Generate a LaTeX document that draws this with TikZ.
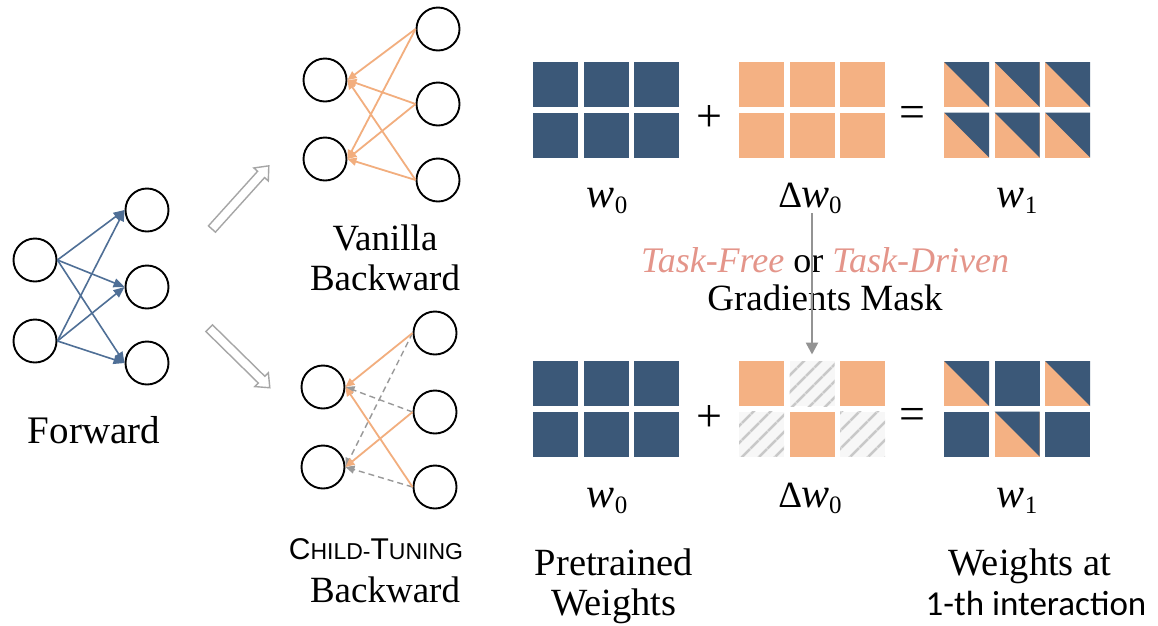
\documentclass[tikz,border=0pt]{standalone}
\usepackage{fontspec}
\setmainfont{Liberation Serif}
\newfontfamily\calib{Carlito}
\newfontfamily\sanscaps{Liberation Sans}
\usetikzlibrary{arrows.meta,shapes.arrows,patterns.meta}

\definecolor{wblue}{HTML}{3B5878}
\definecolor{peach}{HTML}{F4B183}
\definecolor{fwdblue}{HTML}{4F6F96}
\definecolor{bwdorange}{HTML}{F2AE7E}
\definecolor{taskred}{HTML}{E4958A}
\definecolor{hatchgray}{HTML}{C8C8C8}

\newcommand\wlabel[2]{{\fontsize{42}{42}\selectfont\itshape w}\raisebox{-6pt}{\fontsize{25}{25}\selectfont #2}}
\newcommand\dlabel[2]{{\fontsize{37}{37}\selectfont Δ}\kern-1pt\wlabel{#1}{#2}}

\tikzset{
  neuron/.style={circle,draw=black,line width=1.9pt,minimum size=43pt,inner sep=0pt},
  fwd/.style={draw=fwdblue,line width=1.6pt,-{Triangle[length=11pt,width=9pt]}},
  bwd/.style={draw=bwdorange,line width=1.8pt,-{Triangle[length=9pt,width=8pt]}},
  bwdoff/.style={draw=gray!80,line width=1.4pt,dash pattern=on 6pt off 4pt,-{Triangle[length=9pt,width=8pt]}},
  hollow/.style={single arrow,draw=gray!70,fill=white,line width=1.4pt,minimum height=85pt,
    inner sep=4pt,single arrow head extend=5pt,single arrow tip angle=80},
  lbl/.style={font=\fontsize{37}{40}\selectfont,inner sep=0pt,anchor=base},
  cellblue/.style={minimum size=45pt,inner sep=0pt,fill=wblue},
  cellpeach/.style={minimum size=45pt,inner sep=0pt,fill=peach},
  cellhatch/.style={minimum size=45pt,inner sep=0pt,preaction={fill=gray!6},
    pattern={Lines[angle=45,distance=13pt,line width=3pt]},pattern color=hatchgray},
  cellsplit/.style={cellpeach,path picture={\fill[wblue] (path picture bounding box.north west)
      -- (path picture bounding box.north east) -- (path picture bounding box.south east) -- cycle;}},
  maskarrow/.style={draw=gray!85,line width=2.5pt,-{Triangle[length=12pt,width=12pt]}},
  opsym/.style={font=\fontsize{46}{46}\selectfont,inner sep=0pt},
}

\begin{document}
\begin{tikzpicture}[x=1pt,y=-1pt]
\fill[white] (0,0) rectangle (1158,625);
\useasboundingbox (0,0) rectangle (1158,625);

% ---------- forward pass ----------
\node[neuron] (f1) at (35,260) {};
\node[neuron] (f2) at (35,341) {};
\node[neuron] (g1) at (147,210) {};
\node[neuron] (g2) at (147,287) {};
\node[neuron] (g3) at (147,363) {};
\foreach \a in {f1,f2}
  \foreach \b in {g1,g2,g3}
    \draw[fwd] (\a.east) -- (\b.west);
\node[lbl,font=\fontsize{39}{40}\selectfont] (tfwd) at (94,443) {Forward};

% ---------- hollow arrows ----------
\node[hollow,rotate=48] (ha1) at (238.5,199.5) {};
\node[hollow,rotate=-44.5] (ha2) at (237.5,356) {};

% ---------- vanilla backward ----------
\node[neuron] (v1) at (325,80) {};
\node[neuron] (v2) at (325,159) {};
\node[neuron] (u1) at (438,29) {};
\node[neuron] (u2) at (438,104) {};
\node[neuron] (u3) at (438,180) {};
\foreach \a in {u1,u2,u3}
  \foreach \b in {v1,v2}
    \draw[bwd] (\a.west) -- (\b.east);
\node[lbl] (tvan1) at (385,250) {Vanilla};
\node[lbl] (tvan2) at (385,290) {Backward};

% ---------- child-tuning backward ----------
\node[neuron] (c1) at (323,387) {};
\node[neuron] (c2) at (323,467) {};
\node[neuron] (d1) at (435,333) {};
\node[neuron] (d2) at (435,412) {};
\node[neuron] (d3) at (435,487) {};
\draw[bwdoff] (d2.west) -- (c1.east);
\draw[bwdoff] (d1.west) -- (c2.east);
\draw[bwdoff] (d3.west) -- (c2.east);
\draw[bwd] (d1.west) -- (c1.east);
\draw[bwd] (d3.west) -- (c1.east);
\draw[bwd] (d2.west) -- (c2.east);
\node[lbl,font=\sanscaps] (tchild1) at (376,559)
  {{\fontsize{30}{30}\selectfont C}{\fontsize{23}{24}\selectfont HILD-}{\fontsize{30}{30}\selectfont T}{\fontsize{23}{24}\selectfont UNING}};
\node[lbl] (tchild2) at (385,602) {Backward};

% ---------- weight grids, top row ----------
\foreach \r/\y in {1/84.5,2/135}{
  \foreach \c/\dx in {1/0,2/50.5,3/101}{
    \node[cellblue] (ta\r\c) at (555.5+\dx,\y) {};
    \node[cellpeach] (tb\r\c) at (761.5+\dx,\y) {};
    \node[cellsplit] (tc\r\c) at (966.5+\dx,\y) {};
  }
}
\node[opsym] (tplus) at (709,118) {+};
\node[opsym] (teq) at (912,117) {=};
\node[lbl] (tl1) at (607,207) {\wlabel{w}{0}};
\node[lbl] (tl2) at (810,207) {\dlabel{w}{0}};
\node[lbl] (tl3) at (1017,207) {\wlabel{w}{1}};

% ---------- mask text ----------
\node[lbl,font=\fontsize{36}{40}\selectfont] (mask1) at (825,272)
  {{\color{taskred}\itshape Task-Free} or {\color{taskred}\itshape Task-Driven}};
\node[lbl,font=\fontsize{37}{40}\selectfont] (mask2) at (825,310) {Gradients Mask};

% ---------- weight grids, bottom row ----------
\foreach \r/\y in {1/383.5,2/434}{
  \foreach \c/\dx in {1/0,2/50.5,3/101}{
    \node[cellblue] (ba\r\c) at (555.5+\dx,\y) {};
  }
}
\foreach \r/\c/\s in {1/1/cellpeach,1/2/cellhatch,1/3/cellpeach,2/1/cellhatch,2/2/cellpeach,2/3/cellhatch}{
  \pgfmathsetmacro\xx{761.5+50.5*(\c-1)}
  \pgfmathsetmacro\yy{383.5+50.5*(\r-1)}
  \node[\s] (bb\r\c) at (\xx,\yy) {};
}
\foreach \r/\c/\s in {1/1/cellsplit,1/2/cellblue,1/3/cellsplit,2/1/cellblue,2/2/cellsplit,2/3/cellblue}{
  \pgfmathsetmacro\xx{966.5+50.5*(\c-1)}
  \pgfmathsetmacro\yy{383.5+50.5*(\r-1)}
  \node[\s] (bc\r\c) at (\xx,\yy) {};
}
\node[opsym] (bplus) at (709,418) {+};
\node[opsym] (beq) at (912,419) {=};
\node[lbl] (bl1) at (607,507) {\wlabel{w}{0}};
\node[lbl] (bl2) at (810,507) {\dlabel{w}{0}};
\node[lbl] (bl3) at (1017,507) {\wlabel{w}{1}};

% mask arrow from the update to the masked update
\draw[maskarrow] (bb12.north |- tl2.south) -- ([yshift=5pt]bb12.north);

% ---------- captions ----------
\node[lbl,font=\fontsize{38.5}{40}\selectfont] (cap1) at (614,575) {Pretrained};
\node[lbl,font=\fontsize{38.5}{40}\selectfont] (cap2) at (614,615) {Weights};
\node[lbl,font=\fontsize{38.5}{40}\selectfont] (cap3) at (1030,575) {Weights at};
\node[lbl,font=\calib\fontsize{35}{40}\selectfont] (cap4) at (1036,615) {1-th interaction};
\end{tikzpicture}
\end{document}
